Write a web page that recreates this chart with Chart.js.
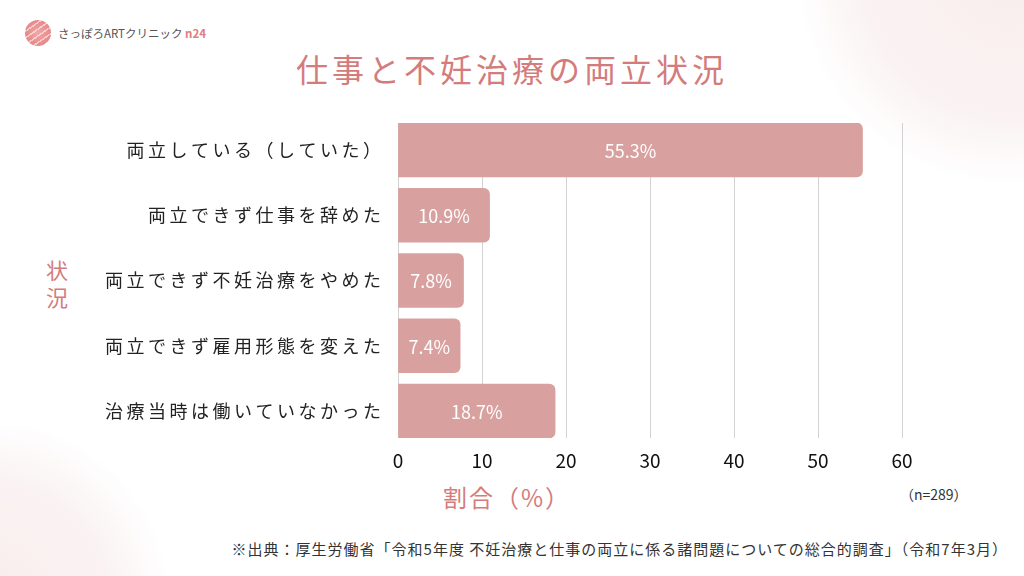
<!DOCTYPE html>
<html lang="ja">
<head>
<meta charset="utf-8">
<script src="https://cdn.jsdelivr.net/npm/chart.js@4.4.1/dist/chart.umd.min.js"></script>
<style>
  html, body { margin:0; padding:0; }
  body {
    width:1024px; height:576px; overflow:hidden; position:relative;
    font-family:"Noto Sans CJK JP","Noto Sans",sans-serif;
    background:
      radial-gradient(circle at 1010px -30px, rgba(240,215,215,0.45) 0, rgba(240,215,215,0.30) 150px, rgba(255,255,255,0) 215px),
      radial-gradient(circle at -10px 600px, rgba(240,215,215,0.45) 0, rgba(240,215,215,0.30) 120px, rgba(255,255,255,0) 180px),
      #ffffff;
  }
  #wrap { position:absolute; left:0; top:0; width:1024px; height:576px; }
  .abs { position:absolute; white-space:nowrap; }
  #logoMark { left:25px; top:20px; width:26px; height:26px; border-radius:50%;
    background:
      repeating-linear-gradient(-35deg, rgba(255,255,255,0) 0 4px, rgba(255,255,255,0.55) 4px 5.5px),
      radial-gradient(circle at 50% 50%, #f0a8a8 0, #e98c8c 60%, #e47f80 100%); }
  #logoText { left:58px; top:25px; font-size:11.5px; color:#555; letter-spacing:0px; line-height:16px; }
  #logoText span { color:#e07d80; font-weight:600; }
  #title { left:0; width:1024px; text-align:center; top:44px; font-size:32px; color:#d47c7c; letter-spacing:4px; line-height:48px; }
  #ytitle { left:44px; top:256px; font-size:22px; color:#d47c7c; line-height:27px; width:26px; text-align:center; white-space:normal; }
  #xtitle { left:443px; top:481px; font-size:24px; color:#d47c7c; letter-spacing:2px; line-height:32px; }
  #nnote { left:900px; top:485px; font-size:14px; color:#333; line-height:18px; }
  #source { right:16px; top:539px; font-size:15px; color:#333; letter-spacing:1px; line-height:20px; }
</style>
</head>
<body>
<div id="logoMark" class="abs"></div>
<div id="logoText" class="abs">さっぽろARTクリニック <span>n24</span></div>
<div id="title" class="abs">仕事と不妊治療の両立状況</div>
<div id="ytitle" class="abs">状況</div>
<div id="xtitle" class="abs">割合（%）</div>
<div id="nnote" class="abs">（n=289）</div>
<div id="source" class="abs">※出典：厚生労働省「令和5年度 不妊治療と仕事の両立に係る諸問題についての総合的調査」（令和7年3月）</div>
<div id="wrap"><canvas id="c" width="1024" height="576"></canvas></div>
<script>
const categories = [
  "両立している（していた）",
  "両立できず仕事を辞めた",
  "両立できず不妊治療をやめた",
  "両立できず雇用形態を変えた",
  "治療当時は働いていなかった"
];
const percentValues = [55.3, 10.9, 7.8, 7.4, 18.7];
const xTickValues = [0, 10, 20, 30, 40, 50, 60];

const FONT = '"Noto Sans CJK JP","Noto Sans",sans-serif';

const valueLabels = {
  id: 'valueLabels',
  afterDatasetsDraw(chart) {
    const ctx = chart.ctx;
    const meta = chart.getDatasetMeta(0);
    ctx.save();
    ctx.fillStyle = '#ffffff';
    ctx.font = '400 18px ' + FONT;
    ctx.textAlign = 'center';
    ctx.textBaseline = 'middle';
    meta.data.forEach((bar, i) => {
      const cx = (bar.x + bar.base) / 2;
      ctx.fillText(percentValues[i].toFixed(1) + '%', cx, bar.y + 1);
    });
    ctx.restore();
  }
};

new Chart(document.getElementById('c'), {
  type: 'bar',
  data: {
    datasets: [{
      data: percentValues.map((v, i) => ({ x: v, y: i })),
      backgroundColor: '#d8a19f',
      borderWidth: 0,
      borderRadius: { topLeft: 0, bottomLeft: 0, topRight: 6, bottomRight: 6 },
      borderSkipped: 'start',
      barThickness: 54
    }]
  },
  options: {
    indexAxis: 'y',
    responsive: false,
    animation: false,
    devicePixelRatio: 1,
    layout: { padding: { top: 123, right: 122, bottom: 0, left: 0 } },
    plugins: { legend: { display: false }, tooltip: { enabled: false } },
    scales: {
      x: {
        type: 'linear',
        position: 'bottom',
        min: 0, max: 60,
        afterBuildTicks(scale) { scale.ticks = xTickValues.map(v => ({ value: v })); },
        afterFit(scale) { scale.height = 138; },
        grid: { color: '#d2d2d2', lineWidth: 1, drawTicks: false },
        border: { display: false },
        ticks: { padding: 11, color: '#111', font: { family: FONT, size: 19 } }
      },
      y: {
        type: 'linear',
        position: 'left',
        reverse: true,
        offset: false,
        bounds: 'data',
        grace: 0,
        min: -0.414, max: 4.414,
        afterBuildTicks(scale) { scale.ticks = categories.map((_, i) => ({ value: i })); },
        afterFit(scale) {
          scale.width = 398;
          if (!scale._lsWrapped) {
            const orig = scale.drawLabels;
            scale.drawLabels = function (area) {
              this.ctx.save();
              this.ctx.letterSpacing = '3.5px';
              orig.call(this, area);
              this.ctx.restore();
            };
            scale._lsWrapped = true;
          }
        },
        grid: { display: false, drawTicks: false },
        border: { display: false },
        ticks: {
          padding: 13.5, color: '#222',
          font: { family: FONT, size: 18 },
          callback: (v) => categories[v] ?? ''
        }
      }
    }
  },
  plugins: [valueLabels]
});
</script>
</body>
</html>
